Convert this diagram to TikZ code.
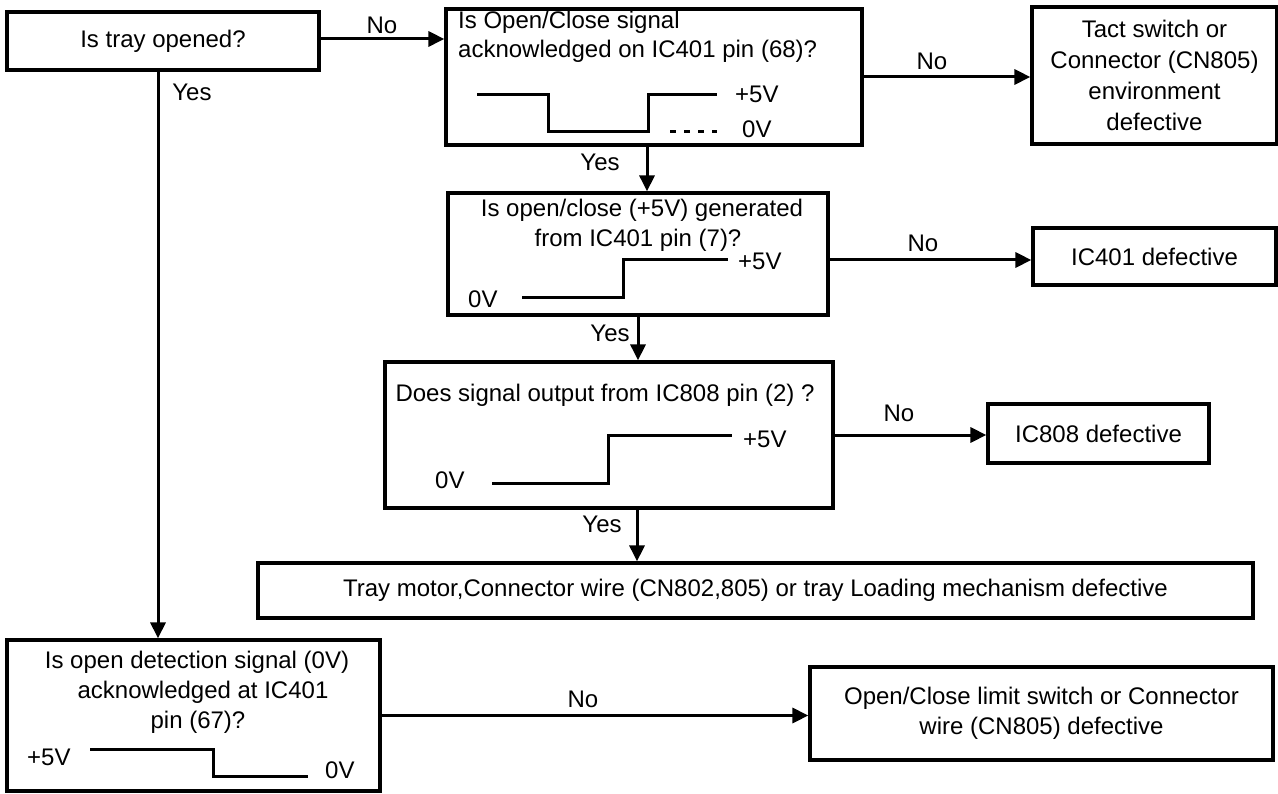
\documentclass[tikz,border=0pt]{standalone}
\usepackage{fontspec}
\setmainfont{Liberation Sans}
\usetikzlibrary{arrows.meta}
\begin{document}
\begin{tikzpicture}[x=1pt,y=-1pt,
  box/.style={draw,line width=3.2pt,inner sep=0pt,align=center,font=\fontsize{24}{31}\selectfont},
  txt/.style={inner sep=0pt,font=\fontsize{24}{30}\selectfont},
  conn/.style={line width=3pt,-{Triangle[length=16pt,width=15pt]}},
  wave/.style={line width=3pt},
]
\useasboundingbox (0,0) rectangle (1278,794);

% boxes
\node[box,minimum width=312pt,minimum height=58pt] (A) at (163,41) {Is tray opened?};

\node[box,minimum width=416pt,minimum height=136pt] (B) at (654,77) {};
\node[txt,anchor=base west] (B1) at (458,29) {Is Open/Close signal};
\node[txt,anchor=base west] (B2) at (458,58) {acknowledged on IC401 pin (68)?};
\draw[wave] (477,95) -- (548,95) -- (548,132) -- (648,132) -- (648,95) -- (717,95);
\draw[wave,dash pattern=on 6pt off 8pt] (670,132) -- (717,132);
\node[txt,anchor=base west] (B5) at (735,103) {+5V};
\node[txt,anchor=base west] (B0) at (742,138) {0V};

\node[box,minimum width=245pt,minimum height=137pt] (T) at (1154.5,75.5) {Tact switch or\\Connector (CN805)\\environment\\defective};

\node[box,minimum width=380pt,minimum height=122pt] (C) at (638,254) {};
\node[txt,anchor=base] (C1) at (642,217) {Is open/close (+5V) generated};
\node[txt,anchor=base] (C2) at (638,247) {from IC401 pin (7)?};
\node[txt,anchor=base west] (C0) at (468,308) {0V};
\draw[wave] (522,298) -- (623,298) -- (623,260) -- (728,260);
\node[txt,anchor=base west] (C5) at (738,270) {+5V};

\node[box,minimum width=243pt,minimum height=57pt] (I4) at (1154.5,256.5) {IC401 defective};

\node[box,minimum width=448pt,minimum height=146pt] (D) at (609,435) {};
\node[txt,anchor=base] (D1) at (605,402) {Does signal output from IC808 pin (2) ?};
\node[txt,anchor=base west] (D0) at (435,488) {0V};
\draw[wave] (492,483) -- (608,483) -- (608,435) -- (732,435);
\node[txt,anchor=base west] (D5) at (743,447) {+5V};

\node[box,minimum width=221pt,minimum height=59pt] (I8) at (1098.5,433.5) {IC808 defective};

\node[box,minimum width=995pt,minimum height=55pt] (E) at (755.5,590.5) {Tray motor,Connector wire (CN802,805) or tray Loading mechanism defective};

\node[box,minimum width=373pt,minimum height=151pt] (F) at (193.5,715.5) {};
\node[txt,anchor=base] (F1) at (197,668) {Is open detection signal (0V)};
\node[txt,anchor=base] (F2) at (203,698) {acknowledged at IC401};
\node[txt,anchor=base] (F3) at (198,728) {pin (67)?};
\node[txt,anchor=base west] (F5) at (27,765) {+5V};
\draw[wave] (90,749) -- (213,749) -- (213,776) -- (308,776);
\node[txt,anchor=base west] (F0) at (325,778) {0V};

\node[box,minimum width=463pt,minimum height=93pt,font=\fontsize{24}{30}\selectfont] (G) at (1041.5,713.5) {Open/Close limit switch or Connector\\wire (CN805) defective};

% connectors
\coordinate (xbc) at (647,0);
\coordinate (xde) at (637,0);
\coordinate (xaf) at (158,0);
\draw[conn] ([yshift=2pt]A.east) -- ([yshift=2pt]A.east -| B.west);
\draw[conn] (B.east) -- (B.east -| T.west);
\draw[conn] (xbc |- B.south) -- (xbc |- C.north);
\draw[conn] ([yshift=-6pt]C.east) -- ([yshift=-6pt]C.east -| I4.west);
\draw[conn] (C.south) -- (C.south |- D.north);
\draw[conn] (D.east) -- (D.east -| I8.west);
\draw[conn] (xde |- D.south) -- (xde |- E.north);
\draw[conn] (xaf |- A.south) -- (xaf |- F.north);
\draw[conn] (F.east) -- (F.east -| G.west);

% labels
\node[txt] (lab1) at (382,25) {No};
\node[txt] (lab2) at (192,92) {Yes};
\node[txt] (lab3) at (932,61) {No};
\node[txt] (lab4) at (600,162) {Yes};
\node[txt] (lab5) at (923,243) {No};
\node[txt] (lab6) at (610,333) {Yes};
\node[txt] (lab7) at (899,413) {No};
\node[txt] (lab8) at (602,524) {Yes};
\node[txt] (lab9) at (583,699) {No};
\end{tikzpicture}
\end{document}
